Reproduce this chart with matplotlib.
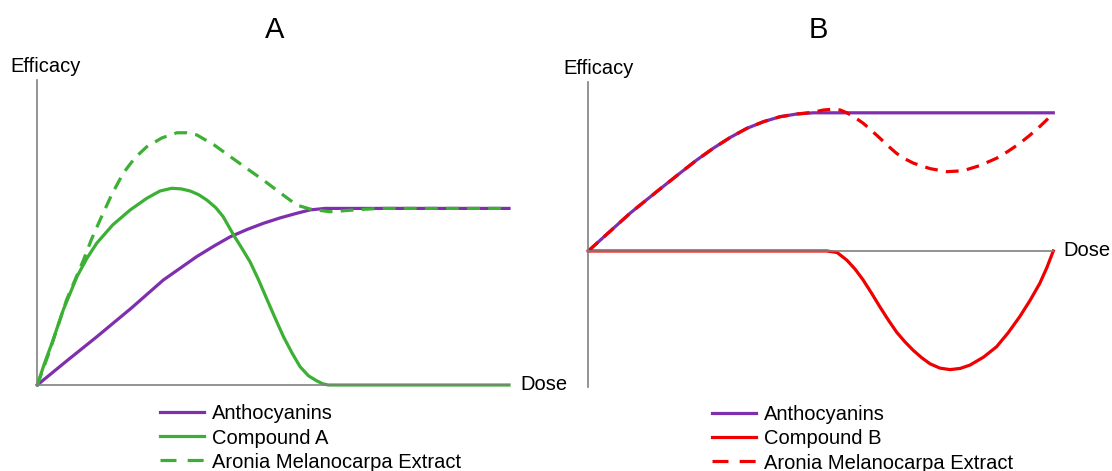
#!/usr/bin/env python3

import matplotlib
matplotlib.use("Agg")
import matplotlib.pyplot as plt
from matplotlib.lines import Line2D

plt.rcParams["font.family"] = ["Liberation Sans", "DejaVu Sans"]

# Panel A (dose 0-10, efficacy in arbitrary units)
a_antho_x = [0, 0.6, 1.26, 2.0, 2.67, 3.38, 3.75, 4.09, 4.45, 4.79, 5.15,
             5.50, 5.78, 6.1, 10]
a_antho_y = [0, 0.76, 1.58, 2.53, 3.44, 4.21, 4.56, 4.86, 5.10, 5.30, 5.48,
             5.63, 5.74, 5.79, 5.79]

a_comp_x = [0, 0.15, 0.31, 0.55, 0.84, 1.05, 1.26, 1.60, 1.97, 2.32, 2.60,
            2.85, 3.05, 3.24, 3.42, 3.59, 3.78, 3.94, 4.16, 4.33, 4.51,
            4.69, 4.86, 5.04, 5.22, 5.40, 5.57, 5.75, 5.92, 6.05, 6.17, 10]
a_comp_y = [0, 0.70, 1.37, 2.46, 3.55, 4.15, 4.65, 5.25, 5.74, 6.12, 6.36,
            6.45, 6.43, 6.36, 6.24, 6.07, 5.82, 5.52, 4.92, 4.50, 4.04,
            3.45, 2.84, 2.20, 1.58, 1.05, 0.60, 0.30, 0.14, 0.04, 0, 0]

a_aronia_x = [0, 0.27, 0.62, 0.98, 1.15, 1.33, 1.58, 1.82, 2.07, 2.32, 2.64,
              2.96, 3.17, 3.38, 3.74, 4.09, 4.44, 4.79, 5.15, 5.50, 5.78,
              6.20, 6.91, 7.27, 10]
a_aronia_y = [0, 1.15, 2.79, 4.10, 4.78, 5.41, 6.25, 6.94, 7.45, 7.81, 8.10,
              8.27, 8.27, 8.20, 7.88, 7.49, 7.10, 6.72, 6.30, 5.90, 5.77,
              5.68, 5.76, 5.79, 5.79]

# Panel B
b_antho_x = [0, 0.45, 0.90, 1.45, 1.97, 2.33, 2.69, 3.05, 3.41, 3.77, 4.12,
             4.48, 4.84, 10]
b_antho_y = [0, 0.62, 1.24, 1.92, 2.55, 2.98, 3.37, 3.72, 4.02, 4.24, 4.40,
             4.49, 4.53, 4.53]

b_comp_x = [0, 5.13, 5.35, 5.56, 5.74, 5.91, 6.09, 6.27, 6.45, 6.63, 6.81,
            6.99, 7.17, 7.35, 7.56, 7.78, 8.00, 8.21, 8.50, 8.78, 9.03, 9.28,
            9.50, 9.71, 9.86, 10]
b_comp_y = [0, 0, -0.05, -0.30, -0.60, -0.95, -1.38, -1.83, -2.26, -2.66,
            -2.98, -3.26, -3.50, -3.70, -3.84, -3.89, -3.85, -3.74, -3.48,
            -3.14, -2.68, -2.15, -1.62, -1.06, -0.55, 0]

b_aronia_x = [0, 0.45, 0.90, 1.45, 1.97, 2.33, 2.69, 3.05, 3.41, 3.77, 4.12,
              4.48, 4.84, 5.05, 5.27, 5.42, 5.56, 5.74, 5.91, 6.09, 6.27,
              6.45, 6.63, 6.81, 6.99, 7.35, 7.71, 8.06, 8.42, 8.78, 9.03,
              9.28, 9.50, 9.71, 9.86, 10]
b_aronia_y = [0, 0.62, 1.24, 1.92, 2.55, 2.98, 3.37, 3.72, 4.02, 4.24, 4.40,
              4.49, 4.55, 4.62, 4.65, 4.62, 4.53, 4.37, 4.19, 3.95, 3.70,
              3.44, 3.20, 3.02, 2.88, 2.70, 2.60, 2.63, 2.80, 3.04, 3.27,
              3.53, 3.80, 4.08, 4.30, 4.51]

PURPLE = "#7f2fae"
GREEN = "#3cb034"
RED = "#f00000"
GREY = "#808080"
LW = 2.3
DASH = (4, 2.6)
FS = 14.5

W, H = 1112, 471
fig = plt.figure(figsize=(W / 100, H / 100), dpi=100)


def setup(ax):
    for s in ["top", "right"]:
        ax.spines[s].set_visible(False)
    for s in ["left", "bottom"]:
        ax.spines[s].set_color(GREY)
        ax.spines[s].set_linewidth(1.2)
    ax.set_xticks([])
    ax.set_yticks([])
    ax.patch.set_alpha(0)


# panel A
axA = fig.add_axes([37.3 / W, 1 - 385 / H, (509 - 37.3) / W, 305 / H])
setup(axA)
axA.set_xlim(0, 10)
axA.set_ylim(0, 10)
axA.plot(a_antho_x, a_antho_y, color=PURPLE, lw=LW, clip_on=False)
axA.plot(a_comp_x, a_comp_y, color=GREEN, lw=LW, clip_on=False)
axA.plot(a_aronia_x, a_aronia_y, color=GREEN, lw=LW, dashes=DASH,
         clip_on=False)
axA.text(10.25, 0, "Dose", fontsize=FS, va="center", ha="left")

# panel B
axB = fig.add_axes([588.3 / W, 1 - 386.7 / H, (1053.3 - 588.3) / W,
                    (386.7 - 82) / H])
setup(axB)
axB.set_xlim(0, 10)
axB.set_ylim(-4.45, 5.54)
axB.spines["bottom"].set_position(("data", 0))
axB.plot(b_antho_x, b_antho_y, color=PURPLE, lw=LW, clip_on=False)
axB.plot(b_aronia_x, b_aronia_y, color=RED, lw=LW, dashes=DASH,
         clip_on=False)
axB.plot(b_comp_x, b_comp_y, color=RED, lw=LW, clip_on=False)
axB.text(10.22, 0, "Dose", fontsize=FS, va="center", ha="left")

# titles and axis names
fig.text(275 / W, 1 - 30 / H, "A", fontsize=21, ha="center", va="center")
fig.text(818 / W, 1 - 30 / H, "B", fontsize=21, ha="center", va="center")
fig.text(10 / W, 1 - 66 / H, "Efficacy", fontsize=FS, ha="left", va="center")
fig.text(563 / W, 1 - 68 / H, "Efficacy", fontsize=FS, ha="left", va="center")

# legends
labels_a = ["Anthocyanins", "Compound A", "Aronia Melanocarpa Extract"]
labels_b = ["Anthocyanins", "Compound B", "Aronia Melanocarpa Extract"]
handles_a = [Line2D([], [], color=PURPLE, lw=LW),
             Line2D([], [], color=GREEN, lw=LW),
             Line2D([], [], color=GREEN, lw=LW, dashes=(5, 3.5))]
handles_b = [Line2D([], [], color=PURPLE, lw=LW),
             Line2D([], [], color=RED, lw=LW),
             Line2D([], [], color=RED, lw=LW, dashes=(5, 3.5))]

leg_kw = dict(loc="center left", frameon=False, fontsize=FS, borderpad=0,
              borderaxespad=0, handlelength=2.2, handletextpad=0.4,
              labelspacing=0.25)
fig.legend(handles_a, labels_a, bbox_to_anchor=(160 / W, 1 - 438 / H),
           **leg_kw)
fig.legend(handles_b, labels_b, bbox_to_anchor=(712 / W, 1 - 439 / H),
           **leg_kw)

fig.savefig("out.png", dpi=100)
